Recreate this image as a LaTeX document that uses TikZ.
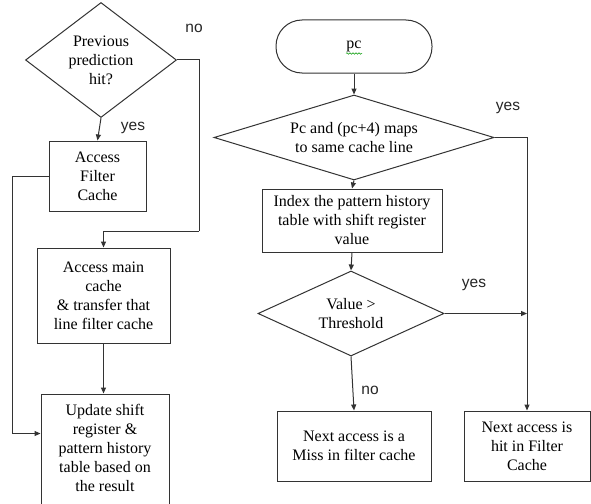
\documentclass[tikz,border=0pt]{standalone}
\usepackage{fontspec}
\setmainfont{Liberation Serif}
\newfontfamily\labfont{Liberation Sans}
\usetikzlibrary{shapes.geometric,arrows.meta,decorations.pathmorphing}
\begin{document}
\begin{tikzpicture}[x=1pt,y=-1pt,
  linec/.style={draw=black!80, line width=1pt},
  box/.style={linec, rectangle, align=center, inner sep=0pt, font=\fontsize{16}{19}\selectfont},
  dia/.style={linec, diamond, inner sep=0pt},
  txt/.style={align=center, inner sep=0pt, font=\fontsize{16}{19}\selectfont},
  lab/.style={inner sep=0pt, font=\labfont\fontsize{15.5}{17}\selectfont, text=black!85},
  arr/.style={linec, -{Triangle[length=6pt,width=5pt]}},
  conn/.style={linec}]
\useasboundingbox (0,0) rectangle (591,503);
\fill[white] (0,0) rectangle (591,503);
\begin{scope}
\clip (0,0) rectangle (591,503);
% left column
\node[dia, minimum width=151pt, minimum height=115pt] (d1) at (101,60) {};
\node[txt] (d1t) at (d1.center) {Previous\\prediction\\hit?};
\node[box, minimum width=97pt, minimum height=70pt] (filter) at (97.5,176) {Access\\Filter\\Cache};
\node[box, minimum width=133pt, minimum height=95pt] (main) at (103.5,295.5) {Access main\\cache\\\& transfer that\\line filter cache};
\node[box, minimum width=128pt, minimum height=114pt] (update) at (105,451) {};
\node[txt] (updatet) at (105,447.5) {Update shift\\register \&\\pattern history\\table based on\\the result};
\coordinate (c1) at (199,231);
% right column
\node[box, rounded corners=26pt, minimum width=156pt, minimum height=53pt] (pc) at (354,46.5) {pc};
\node[dia, minimum width=280pt, minimum height=85pt] (d2) at (354,137.5) {};
\node[txt] (d2t) at (d2.center) {Pc and (pc+4) maps\\to same cache line};
\node[box, minimum width=180pt, minimum height=63pt] (index) at (352,220.5) {Index the pattern history\\table with shift register\\value};
\node[dia, minimum width=186pt, minimum height=85pt] (d3) at (351,313.5) {};
\node[txt] (d3t) at (d3.center) {Value >\\Threshold};
\node[box, minimum width=154pt, minimum height=70pt] (miss) at (354,446) {Next access is a\\Miss in filter cache};
\node[box, minimum width=126pt, minimum height=70pt] (hit) at (527,446) {Next access is\\hit in Filter\\Cache};
% squiggle under pc
\draw[green!60!black, line width=0.5pt, decorate, decoration={snake, amplitude=0.8pt, segment length=3pt}]
  ([xshift=-8pt,yshift=-7pt]pc.center) -- ([xshift=8pt,yshift=-7pt]pc.center);
% connectors
\draw[arr] (d1.south) -- (filter.north);
\draw[conn] (d1.east) -| (c1);
\draw[arr] (c1) -| (main.north);
\draw[arr] (filter.west) -- ++(-36,0) |- ([yshift=17.5pt]update.west);
\draw[arr] (main.south) -- (main.south |- update.north);
\draw[arr] (pc.south) -- (d2.north);
\draw[arr] (d2.south) -- (index.north);
\draw[arr] (index.south) -- (d3.north);
\draw[arr] (d3.south) -- (miss.north);
\draw[arr] (d2.east) -| (hit.north);
\draw[arr] (d3.east) -- (d3.east -| hit.north);
% labels
\node[lab] (l1) at (194,28) {no};
\node[lab] (l2) at (133,128) {yes};
\node[lab] (l3) at (508,108) {yes};
\node[lab] (l4) at (474,285) {yes};
\node[lab] (l5) at (370,390) {no};
\end{scope}
\end{tikzpicture}
\end{document}
